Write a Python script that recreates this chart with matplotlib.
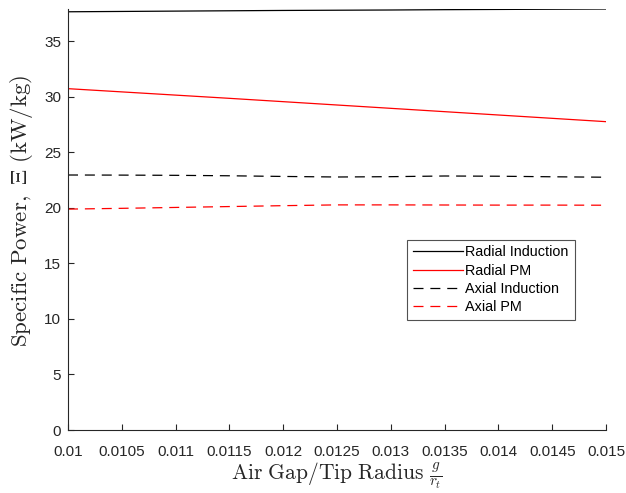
import numpy as np
import matplotlib.pyplot as plt

plt.rcParams['mathtext.fontset'] = 'cm'
plt.rcParams['font.family'] = ['Liberation Sans', 'DejaVu Sans']

# air gap / tip radius
gap = [0.01, 0.0105, 0.011, 0.0115, 0.012, 0.0125, 0.013, 0.0135, 0.014, 0.0145, 0.015]
gapLabels = ['0.01', '0.0105', '0.011', '0.0115', '0.012', '0.0125', '0.013',
             '0.0135', '0.014', '0.0145', '0.015']

radialInduction = [37.64, 37.67, 37.70, 37.73, 37.76, 37.78, 37.80, 37.83, 37.85, 37.87, 37.89]
radialPM = [30.72, 30.43, 30.14, 29.85, 29.55, 29.25, 28.95, 28.65, 28.35, 28.05, 27.75]
axialInduction = [22.95, 22.94, 22.92, 22.88, 22.82, 22.77, 22.80, 22.86, 22.84, 22.79, 22.75]
axialPM = [19.88, 19.95, 20.03, 20.11, 20.19, 20.26, 20.26, 20.25, 20.24, 20.24, 20.23]

fig = plt.figure(figsize=(6.26, 4.93), dpi=100)
ax = fig.add_axes([68/626, 63/493, 538/626, 421/493])

dash = (0, (8, 5.5))
ax.plot(gap, radialInduction, color='black', linewidth=0.9, label='Radial Induction')
ax.plot(gap, radialPM, color='red', linewidth=0.9, label='Radial PM')
ax.plot(gap, axialInduction, color='black', linestyle=dash, linewidth=0.9, label='Axial Induction')
ax.plot(gap, axialPM, color='red', linestyle=dash, linewidth=0.9, label='Axial PM')

ax.set_xlim(0.01, 0.015)
ax.set_ylim(0, max(radialInduction))
ax.set_xticks(gap)
ax.set_xticklabels(gapLabels)
ax.set_yticks([0, 5, 10, 15, 20, 25, 30, 35])

for s in ['top', 'right']:
    ax.spines[s].set_visible(False)
for s in ['left', 'bottom']:
    ax.spines[s].set_color('#262626')
    ax.spines[s].set_linewidth(0.8)
ax.tick_params(direction='in', length=4, width=0.8, colors='#262626', labelsize=11)
ax.tick_params(axis='x', pad=11)
ax.tick_params(axis='y', pad=5)

ax.set_xlabel(r'$\mathrm{Air\ Gap/Tip\ Radius}\ \frac{g}{r_t}$', fontsize=15.5, color='#262626',
              labelpad=1)
ax.set_ylabel(r'$\mathrm{Specific\ Power,\ }\Xi\mathrm{\ (kW/kg)}$', fontsize=16.5, color='#262626')
ax.yaxis.set_label_coords(-0.062, 0.52)

leg = ax.legend(loc='upper left', bbox_to_anchor=(0.630, 0.452), fontsize=10.4,
                frameon=True, fancybox=False, edgecolor='#262626', handlelength=3.5,
                handletextpad=0.15, borderpad=0.4, labelspacing=0.3, borderaxespad=0)
leg.get_frame().set_linewidth(0.8)

fig.savefig('out.png', dpi=100)
